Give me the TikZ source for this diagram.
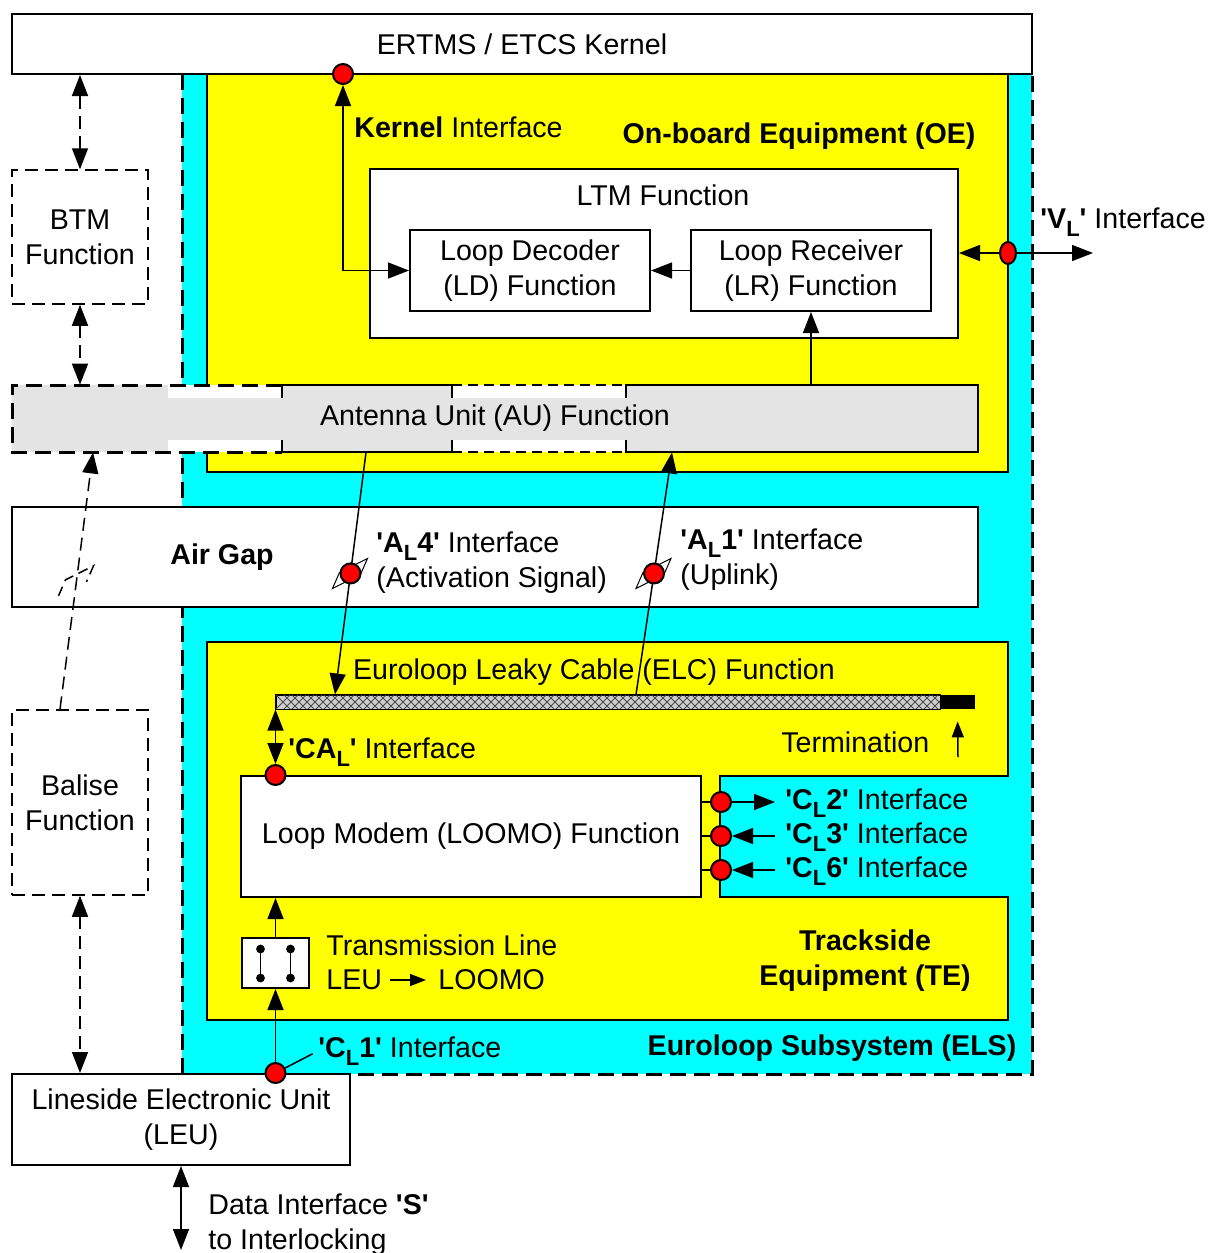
\documentclass[tikz,border=0pt]{standalone}
\usepackage{fontspec}
\setmainfont{Liberation Sans}[Ligatures=TeXOff]
\usetikzlibrary{arrows.meta,calc,positioning,shapes.geometric}
\definecolor{elscyan}{RGB}{0,255,255}
\definecolor{oeyellow}{RGB}{255,255,0}
\definecolor{augray}{RGB}{228,228,228}
\definecolor{cablegray}{RGB}{205,205,205}
\definecolor{dotred}{RGB}{255,0,0}
\pgfdeclarelayer{front}
\pgfsetlayers{main,front}
\newcommand{\subL}{\raisebox{-0.5ex}{\fontsize{11pt}{11pt}\selectfont L}}
\tikzset{
  box/.style        = {draw, line width=1pt, fill=white, inner sep=0pt, align=center},
  dashbox/.style    = {draw, line width=0.75pt, dash pattern=on 6.5pt off 3.5pt,
                       inner sep=0pt, align=center},
  cablebox/.style   = {draw, line width=0.5pt, inner sep=0pt, fill=cablegray},
  link/.style       = {line width=0.75pt},
  symb/.style       = {line width=0.5pt},
  arr/.style        = {link, -{Triangle[length=10.5pt,width=8pt]}},
  darr/.style       = {link, {Triangle[length=10.5pt,width=8pt]}-{Triangle[length=10.5pt,width=8pt]}},
  ddarr/.style      = {darr, dash pattern=on 6.5pt off 3.5pt},
  smallarr/.style   = {link, -{Triangle[length=8pt,width=6pt]}},
  ifdot/.style      = {circle, draw, line width=1pt, fill=dotred, inner sep=0pt,
                       minimum size=10pt},
  lbl/.style        = {anchor=west, inner sep=0pt, align=left},
  els border/.style = {line width=1.5pt, dash pattern=on 8pt off 4pt},
  au dash/.style    = {line width=1pt, dash pattern=on 5pt off 3pt},
}

\begin{document}
\fontsize{14.3pt}{17.5pt}\selectfont
\begin{tikzpicture}[x=0.5pt,y=-0.5pt]
  \useasboundingbox (0,0) rectangle (1208,1253);

  % ---- regions -----------------------------------------------------------
  \fill[elscyan] (182,74) rectangle (1032,1074);
  \draw[els border] (182,74) -- (182,1074) -- (1032,1074) -- (1032,74);
  \filldraw[fill=oeyellow, line width=1pt] (207,74) rectangle (1008,472);
  \filldraw[fill=oeyellow, line width=1pt] (207,642) -- (1008,642) -- (1008,776)
      -- (720,776) -- (720,897) -- (1008,897) -- (1008,1020) -- (207,1020) -- cycle;

  % ---- antenna unit band ---------------------------------------------------
  \fill[white] (168,385) rectangle (626,452);
  \fill[augray] (12,385) rectangle (168,452);
  \filldraw[fill=augray, line width=1pt] (282,385) rectangle (452,452);
  \filldraw[fill=augray, line width=1pt] (626,385) rectangle (978,452);
  \fill[augray] (13,398) rectangle (977,440);
  \draw[els border] (282,385) -- (12,385) -- (12,452) -- (282,452);
  \draw[au dash] (452,385) -- (626,385) (452,452) -- (626,452);
  \node[minimum width=483pt, minimum height=33.5pt, inner sep=0pt] (au) at (495,418.5)
      {Antenna Unit (AU) Function};

  % ---- boxes ---------------------------------------------------------------
  \node[box, minimum width=510pt, minimum height=30pt] (ertms) at (522,44) {ERTMS / ETCS Kernel};
  \node[dashbox, minimum width=68pt, minimum height=67pt] (btm) at (80,237) {BTM\\Function};
  \node[dashbox, minimum width=68pt, minimum height=92.5pt] (balise) at (80,802.5) {Balise\\Function};
  \node[box, minimum width=294pt, minimum height=84.5pt] (ltm) at (664,253.5) {};
  \node (ltmlbl) at (663,195) {LTM Function};
  \node[box, minimum width=120pt, minimum height=40.5pt] (ld) at (530,270.5) {Loop Decoder\\(LD) Function};
  \node[box, minimum width=120pt, minimum height=40.5pt] (lr) at (811,270.5) {Loop Receiver\\(LR) Function};
  \node[box, minimum width=483pt, minimum height=50pt] (airgap) at (495,557) {};
  \node[font=\bfseries] (airgaplbl) at (222,557) {Air Gap};
  \node[cablebox, minimum width=332pt, minimum height=7pt] (cable) at (608,702) {};
  \begin{scope}
    \clip (cable.south west) rectangle (cable.north east);
    \foreach \i in {0,8,...,680} {
      \draw[line width=0.4pt, black!70] (276+\i,695) -- ++(14,14);
      \draw[line width=0.4pt, black!70] (276+\i,709) -- ++(14,-14);
    }
  \end{scope}
  \draw[line width=0.5pt] (cable.south west) rectangle (cable.north east);
  \node[fill=black, inner sep=0pt, minimum width=17.5pt, minimum height=7pt] (term) at (957.5,702) {};
  \node[box, minimum width=230pt, minimum height=60.5pt] (loomo) at (471,836.5) {Loop Modem (LOOMO) Function};
  \node[box, minimum width=33.5pt, minimum height=25pt] (tline) at (275.5,963) {};
  \node[box, minimum width=169pt, minimum height=45.5pt] (leu) at (181,1119.5) {Lineside Electronic Unit\\(LEU)};

  % ---- labels --------------------------------------------------------------
  \node[lbl] (klbl) at (354,127) {\textbf{Kernel} Interface};
  \node[font=\bfseries] (oelbl) at (799,136) {On-board Equipment (OE)};
  \node[lbl] (vlbl) at (1040,222) {\textbf{'V\subL'} Interface};
  \node[lbl] (a4lbl) at (376,563) {\textbf{'A\subL4'} Interface\\(Activation Signal)};
  \node[lbl] (a1lbl) at (680,560) {\textbf{'A\subL1'} Interface\\(Uplink)};
  \node (elclbl) at (594,672) {Euroloop Leaky Cable (ELC) Function};
  \node[lbl] (termlbl) at (781,742) {Termination};
  \node[lbl] (calbl) at (288,752) {\textbf{'CA\subL'} Interface};
  \node[lbl] (c2lbl) at (785,803) {\textbf{'C\subL2'} Interface};
  \node[lbl] (c3lbl) at (785,837) {\textbf{'C\subL3'} Interface};
  \node[lbl] (c6lbl) at (785,871) {\textbf{'C\subL6'} Interface};
  \node[lbl] (tl1) at (326,945) {Transmission Line};
  \node[lbl] (tl2) at (326,980) {LEU};
  \node[lbl] (tl3) at (438,980) {LOOMO};
  \node[font=\bfseries, align=center] (telbl) at (865,961) {Trackside\\Equipment (TE)};
  \node[font=\bfseries] (elslbl) at (832,1048) {Euroloop Subsystem (ELS)};
  \node[lbl] (c1lbl) at (318,1051) {\textbf{'C\subL1'} Interface};
  \node[lbl] (slbl) at (208,1225) {Data Interface \textbf{'S'}\\to Interlocking};

  % ---- end points ----------------------------------------------------------
  \coordinate (a4s) at ([xshift=-64.5pt]au.south);
  \coordinate (a4e) at ([xshift=-136.5pt]cable.north);
  \coordinate (a1s) at ([xshift=14pt]cable.north);
  \coordinate (a1e) at ([xshift=88.5pt]au.south);
  \coordinate (gs) at ([xshift=-10pt]balise.north);
  \coordinate (ge) at ([xshift=-201pt]au.south);
  \coordinate (vout) at (1093,253);
  \coordinate (termarr) at (958,757);
  \coordinate (sint) at (181,1250);

  % ---- interface points ----------------------------------------------------
  \begin{pgfonlayer}{front}
    \node[ifdot] (kdot) at (343,74) {};
    \node[ifdot, ellipse, minimum width=8pt, minimum height=11pt] (vdot) at (1008,253) {};
    \node[ifdot] (a4dot) at ($(a4s)!0.5!(a4e)$) {};
    \node[ifdot] (a1dot) at ($(a1s)!0.5!(a1e)$) {};
    \node[ifdot] (cadot) at (cable.south west |- loomo.north) {};
    \node[ifdot] (c2dot) at (721,802) {};
    \node[ifdot] (c3dot) at (721,836) {};
    \node[ifdot] (c6dot) at (721,870) {};
    \node[ifdot] (c1dot) at (tline.south |- leu.north) {};
  \end{pgfonlayer}

  % ---- connectors ----------------------------------------------------------
  \draw[darr] (kdot) |- (ld.west);
  \draw[arr] (lr.west) -- (ld.east);
  \draw[arr] (lr.south |- au.north) -- (lr.south);
  \draw[darr] (ltm.east |- vdot) -- (vout);
  \draw[arr] (a4s) -- (a4e);
  \draw[arr] (a1s) -- (a1e);
  \foreach \d in {a4dot,a1dot}
    \draw[symb] ($(\d)+(-18,15)$) -- ++(7,-16) -- ($(\d)+(17,-15)$) -- ++(-7,16) -- cycle;
  \draw[link, dash pattern=on 6.5pt off 3.5pt, -{Triangle[length=10.5pt,width=8pt]}] (gs) -- (ge);
  \draw[link, dash pattern=on 5pt off 3pt]
    ($($(gs)!0.5!(ge)$)+(-18,15)$) -- ++(7,-16) -- ($($(gs)!0.5!(ge)$)+(17,-15)$) -- ++(-7,16);
  \draw[darr] (cadot) -- (cadot |- cable.south);
  \draw[smallarr, shorten >=6pt] (termarr) -- (term.south);
  \foreach \d in {c2dot,c3dot,c6dot}
    \draw[link] (loomo.east |- \d) -- (\d);
  \draw[arr, shorten >=5pt] (c2dot) -- (c2dot -| c2lbl.west);
  \draw[arr, shorten <=5pt] (c3dot -| c3lbl.west) -- (c3dot);
  \draw[arr, shorten <=5pt] (c6dot -| c6lbl.west) -- (c6dot);
  \draw[arr] (c1dot) -- (tline.south);
  \draw[arr] (tline.north) -- (tline.north |- loomo.south);
  \draw[smallarr, shorten <=4pt, shorten >=6pt] (tl2.east) -- (tl3.west);
  \draw[link, shorten >=3pt] (c1dot) -- (c1lbl.west);
  \draw[darr] (leu.south) -- (sint);
  \draw[ddarr] (btm.north) -- (btm.north |- ertms.south);
  \draw[ddarr] (btm.south) -- (btm.south |- au.north);
  \draw[ddarr] (balise.south) -- (balise.south |- leu.north);

  % transmission line symbol
  \foreach \dx in {-15,15} {
    \draw[link] ([shift={(\dx,-14)}]tline.center) -- ([shift={(\dx,15)}]tline.center);
    \fill ([shift={(\dx,-14)}]tline.center) circle[radius=2.2pt];
    \fill ([shift={(\dx,15)}]tline.center) circle[radius=2.2pt];
  }
\end{tikzpicture}
\end{document}
